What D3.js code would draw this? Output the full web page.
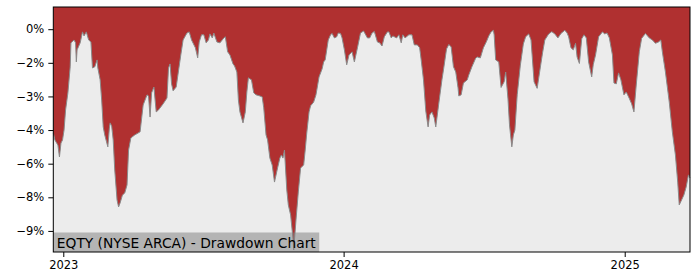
<!DOCTYPE html>
<html>
<head>
<meta charset="utf-8">
<script src="https://cdn.jsdelivr.net/npm/d3@7"></script>
<style>
  body { margin: 0; background: #fff; }
  svg text { font-family: "DejaVu Sans", sans-serif; fill: #000; }
</style>
</head>
<body>
<div id="chart"></div>
<script>
var svgWidth = 700;
var svgHeight = 280;

// plot frame in pixels
var margin = { top: 7, right: 10, bottom: 28, left: 53.3 };
var width = svgWidth - margin.left - margin.right;
var height = svgHeight - margin.top - margin.bottom;

// drawdown (%)
var dates = [
  "2022-12-19","2022-12-21","2022-12-25","2022-12-27","2022-12-29","2022-12-31",
  "2023-01-02","2023-01-04","2023-01-07","2023-01-10","2023-01-11","2023-01-15","2023-01-17","2023-01-18","2023-01-19","2023-01-23","2023-01-26","2023-01-28","2023-01-31",
  "2023-02-03","2023-02-06","2023-02-08","2023-02-11","2023-02-14","2023-02-15","2023-02-18","2023-02-20","2023-02-22","2023-02-24","2023-02-28",
  "2023-03-02","2023-03-03","2023-03-05","2023-03-07","2023-03-09","2023-03-12","2023-03-14","2023-03-16","2023-03-19","2023-03-22","2023-03-25","2023-03-27","2023-03-30",
  "2023-04-04","2023-04-11","2023-04-15","2023-04-20","2023-04-22","2023-04-24","2023-04-26","2023-04-29",
  "2023-05-02","2023-05-05","2023-05-11","2023-05-16","2023-05-18","2023-05-20","2023-05-22","2023-05-24","2023-05-28","2023-05-31",
  "2023-06-03","2023-06-06","2023-06-11","2023-06-14","2023-06-17","2023-06-22","2023-06-25","2023-06-27","2023-06-30",
  "2023-07-03","2023-07-06","2023-07-09","2023-07-11","2023-07-14","2023-07-16","2023-07-20","2023-07-24","2023-07-29","2023-07-31",
  "2023-08-03","2023-08-06","2023-08-10","2023-08-12","2023-08-15","2023-08-17","2023-08-19","2023-08-23","2023-08-26","2023-08-28","2023-08-30",
  "2023-09-03","2023-09-06","2023-09-09","2023-09-14","2023-09-17","2023-09-19","2023-09-22","2023-09-24","2023-09-27","2023-09-30",
  "2023-10-03","2023-10-07","2023-10-10","2023-10-12","2023-10-14","2023-10-16","2023-10-19","2023-10-21","2023-10-24","2023-10-27","2023-10-28","2023-10-31",
  "2023-11-03","2023-11-06","2023-11-10","2023-11-12","2023-11-14","2023-11-17","2023-11-19","2023-11-23","2023-11-26","2023-11-30",
  "2023-12-04","2023-12-06","2023-12-08","2023-12-11","2023-12-12","2023-12-15","2023-12-17","2023-12-20","2023-12-23","2023-12-25","2023-12-28","2023-12-30",
  "2024-01-02","2024-01-05","2024-01-08","2024-01-12","2024-01-15","2024-01-19","2024-01-23","2024-01-27",
  "2024-02-01","2024-02-04","2024-02-07","2024-02-10","2024-02-14","2024-02-17","2024-02-20","2024-02-23","2024-02-27","2024-02-29",
  "2024-03-03","2024-03-05","2024-03-10","2024-03-13","2024-03-16","2024-03-18","2024-03-21","2024-03-26","2024-03-30",
  "2024-04-02","2024-04-06","2024-04-09","2024-04-11","2024-04-14","2024-04-17","2024-04-20","2024-04-22","2024-04-25","2024-04-28","2024-04-30",
  "2024-05-04","2024-05-08","2024-05-10","2024-05-14","2024-05-17","2024-05-20","2024-05-23","2024-05-26","2024-05-29","2024-05-30",
  "2024-06-02","2024-06-05","2024-06-10","2024-06-12","2024-06-16","2024-06-21","2024-06-23","2024-06-27",
  "2024-07-01","2024-07-05","2024-07-08","2024-07-11","2024-07-14","2024-07-15","2024-07-17","2024-07-21","2024-07-24","2024-07-28","2024-07-30",
  "2024-08-02","2024-08-04","2024-08-07","2024-08-09","2024-08-11","2024-08-14","2024-08-18","2024-08-22","2024-08-25","2024-08-29",
  "2024-09-01","2024-09-05","2024-09-09","2024-09-13","2024-09-16","2024-09-19","2024-09-24","2024-09-28",
  "2024-10-02","2024-10-06","2024-10-10","2024-10-15","2024-10-18","2024-10-20","2024-10-23","2024-10-26","2024-10-29","2024-10-31",
  "2024-11-03","2024-11-06","2024-11-09","2024-11-12","2024-11-15","2024-11-19","2024-11-21","2024-11-24","2024-11-28",
  "2024-12-03","2024-12-06","2024-12-09","2024-12-12","2024-12-16","2024-12-18","2024-12-21","2024-12-24","2024-12-27","2024-12-31",
  "2025-01-03","2025-01-07","2025-01-10","2025-01-13","2025-01-16","2025-01-20","2025-01-23","2025-01-28",
  "2025-02-02","2025-02-06","2025-02-10","2025-02-14","2025-02-17","2025-02-19","2025-02-23","2025-02-28",
  "2025-03-04","2025-03-08","2025-03-11","2025-03-13","2025-03-16","2025-03-19","2025-03-22","2025-03-25","2025-03-27"
];
var drawdown = [
  -4.63,-4.94,-5.17,-5.70,-5.08,-4.94,
  -4.50,-3.60,-2.84,-1.68,-0.61,-0.48,-0.61,-1.46,-0.92,-0.61,-0.12,-0.30,-0.12,
  -0.48,-0.57,-1.73,-1.68,-1.37,-1.73,-2.26,-3.16,-4.36,-4.72,-5.25,
  -4.41,-4.18,-4.32,-4.94,-6.28,-7.62,-7.93,-7.75,-7.40,-7.31,-6.95,-5.39,-4.85,
  -4.72,-4.58,-3.38,-2.93,-2.98,-3.92,-2.84,-2.58,
  -3.69,-3.60,-3.33,-3.07,-1.73,-1.55,-2.44,-2.75,-2.58,-1.86,
  -1.15,-0.48,-0.17,-0.12,-0.48,-0.83,-1.28,-0.57,-0.25,
  -0.25,-0.61,-0.48,-0.21,-0.39,-0.17,-0.57,-0.61,-0.39,-0.34,
  -1.01,-1.15,-1.55,-1.64,-1.91,-3.16,-3.69,-4.18,-3.69,-2.80,-2.17,
  -2.26,-2.84,-2.93,-2.98,-3.02,-3.51,-4.72,-4.94,-5.75,-6.06,
  -6.82,-6.19,-5.75,-5.61,-5.75,-5.39,-7.17,-7.84,-8.29,-9.32,-9.85,-8.51,
  -7.26,-6.19,-6.06,-5.39,-4.63,-3.69,-3.42,-3.25,-2.93,-2.13,
  -1.77,-1.46,-1.37,-0.70,-0.48,-0.25,-0.19,-0.39,-0.34,-0.17,-0.19,-0.39,
  -0.92,-1.59,-1.15,-1.01,-1.46,-0.83,-0.17,-0.08,
  -0.39,-0.39,-0.17,-0.10,-0.57,-0.61,-0.75,-0.34,-0.12,-0.12,
  -0.39,-0.30,-0.39,-0.25,-0.61,-0.25,-0.39,-0.25,-0.25,
  -0.70,-0.70,-0.83,-1.37,-2.26,-3.65,-4.36,-3.83,-3.69,-3.96,-4.36,
  -3.29,-2.26,-1.82,-0.88,-0.68,-0.79,-1.67,-1.91,-2.62,-2.98,
  -2.93,-2.40,-2.26,-2.04,-1.68,-1.29,-1.24,-1.28,
  -0.83,-0.55,-0.30,-0.12,-0.05,-0.25,-1.37,-1.46,-2.60,-2.35,-1.91,
  -3.11,-4.27,-5.25,-4.72,-4.50,-2.93,-1.64,-0.66,-0.34,-0.21,
  -0.48,-2.35,-2.64,-1.73,-1.06,-0.48,-0.21,-0.11,
  -0.21,-0.39,-0.19,-0.05,-0.17,-0.34,-0.83,-0.92,-0.63,-1.24,
  -1.53,-0.43,-0.25,-0.39,-1.46,-2.13,-1.59,-1.15,-0.34,
  -0.12,-0.21,-0.17,-0.39,-1.15,-2.40,-2.44,-1.95,-2.26,-2.93,
  -2.80,-3.09,-3.33,-3.69,-2.49,-1.01,-0.41,-0.19,
  -0.39,-0.48,-0.63,-0.57,-0.48,-1.01,-1.91,-3.25,
  -4.58,-5.61,-6.82,-7.84,-7.62,-7.40,-7.04,-6.50,-6.64
];

var yDomain = [-9.94, 0.99];
var yTicks = [0, -1.5, -3, -4.5, -6, -7.5, -9];
var yTickLabels = ["0%", "\u22122%", "\u22123%", "\u22124%", "\u22126%", "\u22128%", "\u22129%"];
var xTicks = ["2023-01-01", "2024-01-01", "2025-01-01"];
var xTickLabels = ["2023", "2024", "2025"];
var titleText = "EQTY (NYSE ARCA) - Drawdown Chart";

var parseDate = d3.timeParse("%Y-%m-%d");
var data = dates.map(function(d, i) {
  return { date: parseDate(d), value: drawdown[i] };
});

var svg = d3.select("#chart")
  .append("svg")
  .attr("width", svgWidth)
  .attr("height", svgHeight);

var chartGroup = svg.append("g")
  .attr("transform", `translate(${margin.left}, ${margin.top})`);

var xTimeScale = d3.scaleTime()
  .domain(d3.extent(data, d => d.date))
  .range([0, width]);

var yLinearScale = d3.scaleLinear()
  .domain(yDomain)
  .range([height, 0]);

// axes background
chartGroup.append("rect")
  .attr("width", width)
  .attr("height", height)
  .attr("fill", "#ececec");

// red area from the drawdown line up to the top of the axes
var area = d3.area()
  .x(d => xTimeScale(d.date))
  .y0(yLinearScale(yDomain[1]))
  .y1(d => yLinearScale(d.value));

chartGroup.append("path")
  .datum(data)
  .attr("d", area)
  .attr("fill", "#b03030");

var line = d3.line()
  .x(d => xTimeScale(d.date))
  .y(d => yLinearScale(d.value));

chartGroup.append("path")
  .datum(data)
  .attr("d", line)
  .attr("fill", "none")
  .attr("stroke", "#8a8a8a")
  .attr("stroke-width", 1);

// title box, bottom left (semi transparent like the reference)
var titleGroup = chartGroup.append("g");
var titleLabel = titleGroup.append("text")
  .attr("x", 3.5)
  .attr("y", height - 4.5)
  .attr("font-size", "13.8px")
  .text(titleText);
var tw = titleLabel.node().getComputedTextLength();
titleGroup.insert("rect", "text")
  .attr("x", 0)
  .attr("y", height - 19.5)
  .attr("width", tw + 7)
  .attr("height", 19.5)
  .attr("fill", "#808080")
  .attr("fill-opacity", 0.52);

// axes
var leftAxis = d3.axisLeft(yLinearScale)
  .tickValues(yTicks)
  .tickFormat((d, i) => yTickLabels[i])
  .tickSize(5)
  .tickPadding(4);

var bottomAxis = d3.axisBottom(xTimeScale)
  .tickValues(xTicks.map(parseDate))
  .tickFormat((d, i) => xTickLabels[i])
  .tickSize(5)
  .tickPadding(4);

var yAxis = chartGroup.append("g")
  .call(leftAxis);

var xAxis = chartGroup.append("g")
  .attr("transform", `translate(0, ${height})`)
  .call(bottomAxis);

[yAxis, xAxis].forEach(function(ax) {
  ax.select(".domain").remove();
  ax.selectAll("text")
    .attr("font-size", "11.5px")
    .attr("font-family", "DejaVu Sans, sans-serif")
    .attr("fill", "#000");
  ax.selectAll("line").attr("stroke", "#000").attr("stroke-width", 1);
});

// frame
chartGroup.append("rect")
  .attr("width", width)
  .attr("height", height)
  .attr("fill", "none")
  .attr("stroke", "#000")
  .attr("stroke-width", 1);
</script>
</body>
</html>
